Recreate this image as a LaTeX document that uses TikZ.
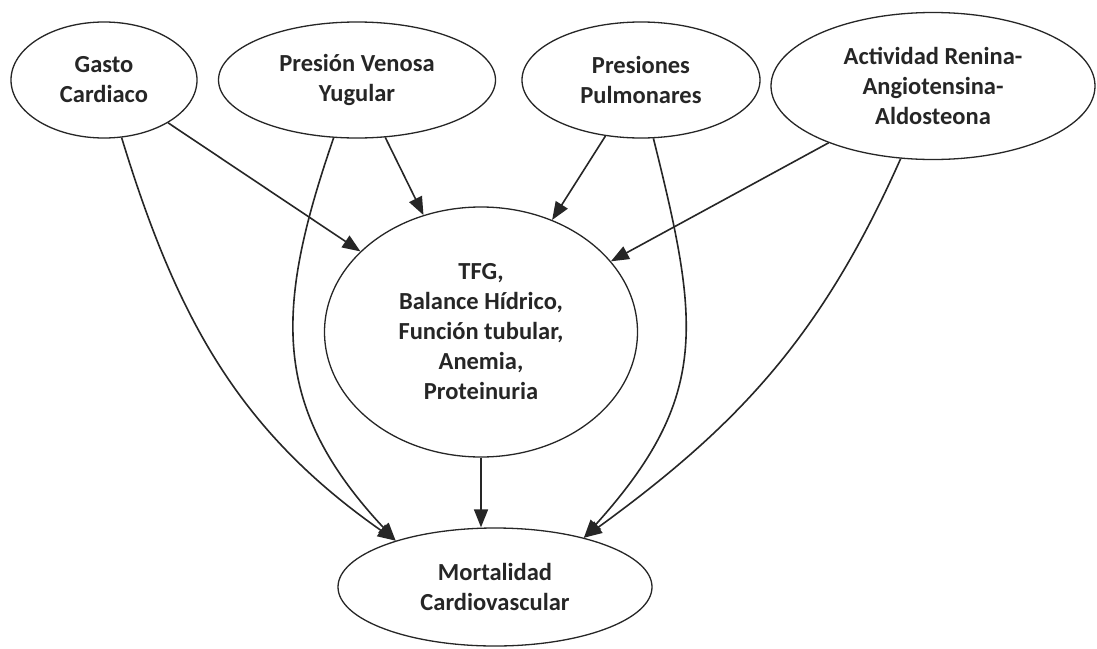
\documentclass[tikz,border=0pt]{standalone}
\usepackage{fontspec}
\setmainfont{Carlito}
\usetikzlibrary{shapes.geometric,arrows.meta}
\begin{document}
\begin{tikzpicture}[x=1pt,y=-1pt,
  factor/.style={ellipse, draw=black!85, line width=1.3pt, inner sep=0pt,
    align=center, text=black!85,
    font=\fontsize{24.5}{30}\selectfont\bfseries},
  link/.style={draw=black!85, line width=1.6pt,
    -{Triangle[length=18pt,width=14pt]}}
]
% page area
\fill[white] (0,0) rectangle (1097,648);
\useasboundingbox (0,0) rectangle (1097,648);

% causes (top row)
\node[factor, minimum width=186pt, minimum height=116pt] (gc)  at (104,80)  {Gasto\\Cardiaco};
\node[factor, minimum width=277pt, minimum height=116pt] (pvy) at (357,80)  {Presión Venosa\\Yugular};
\node[factor, minimum width=238pt, minimum height=116pt] (pp)  at (641,80)  {Presiones\\Pulmonares};
\node[factor, minimum width=324pt, minimum height=147pt] (raa) at (933,86)  {Actividad Renina-\\Angiotensina-\\Aldosteona};

% renal mediators
\node[factor, minimum width=313pt, minimum height=250pt] (mid) at (481,332)
  {TFG,\\Balance Hídrico,\\Función tubular,\\Anemia,\\Proteinuria};

% outcome
\node[factor, minimum width=314pt, minimum height=118pt] (mort) at (495,587)
  {Mortalidad\\Cardiovascular};

% direct links into the mediators
\draw[link] (gc)  -- (mid);
\draw[link] (pvy) -- (mid);
\draw[link] (pp)  -- (mid);
\draw[link] (raa) -- (mid);
\draw[link] (mid.south) -- (mid.south |- mort.north);

% curved links straight to the outcome
\draw[link] (gc.-73)     to[out=-73,  in=145, looseness=1]    (mort.155);
\draw[link] (pvy.-112.6) to[out=-109, in=133, looseness=1.15] (mort.155);
\draw[link] (pp.-78)     to[out=-76,  in=48,  looseness=1.2]  (mort.29.5);
\draw[link] (raa.-114)   to[out=-114, in=36,  looseness=1]    (mort.29.5);
\end{tikzpicture}
\end{document}
